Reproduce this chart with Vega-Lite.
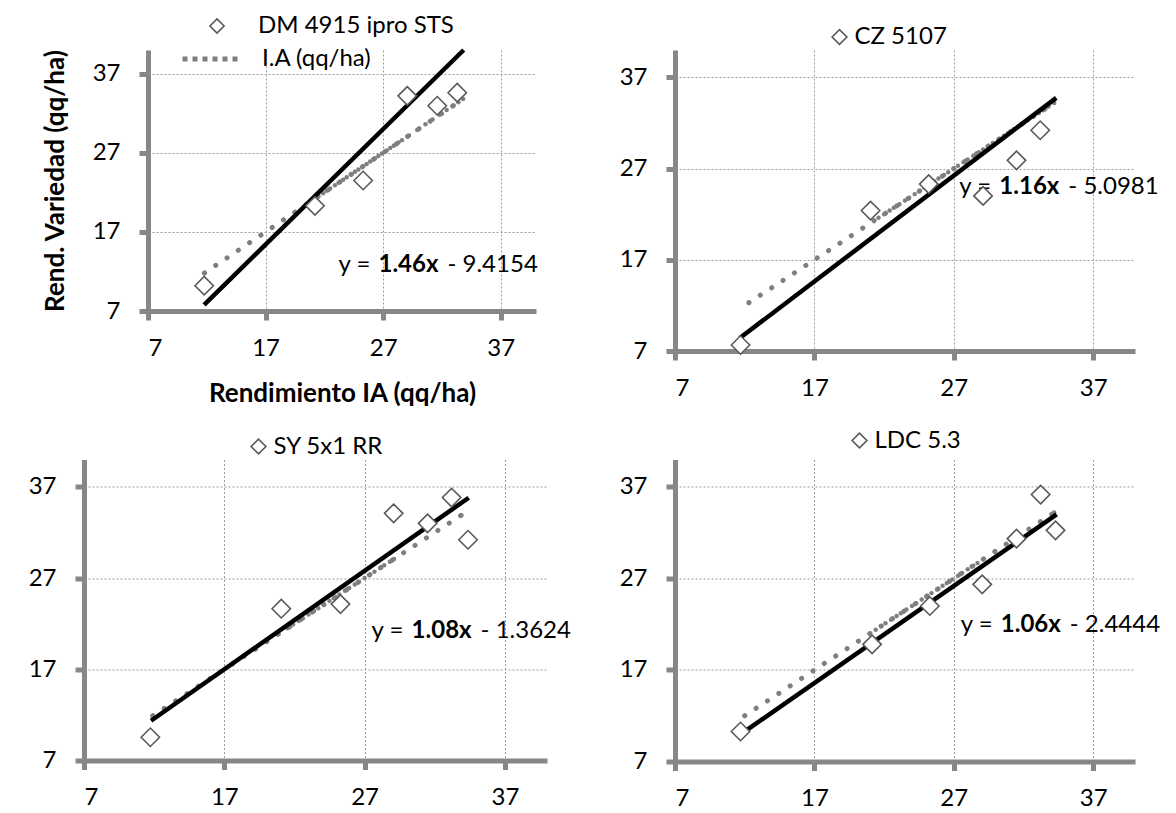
{
  "$schema": "https://vega.github.io/schema/vega-lite/v6.json",
  "background": "white",
  "padding": {"left": 28, "top": 14, "right": 10, "bottom": 10},
  "autosize": {"type": "pad"},
  "columns": 2,
  "bounds": "flush",
  "align": "all",
  "spacing": {"row": 107.5, "column": 128},
  "resolve": {
    "scale": {"shape": "independent", "stroke": "independent"},
    "legend": {"shape": "independent", "stroke": "independent"}
  },
  "config": {
    "font": "Lato",
    "view": {"stroke": null},
    "axis": {
      "labelFont": "Lato", "labelFontSize": 24, "labelColor": "#000000",
      "domainColor": "#878787", "domainWidth": 5,
      "tickColor": "#878787", "tickWidth": 5, "tickSize": 9,
      "gridColor": "#9c9c9c", "gridDash": [2, 2], "gridWidth": 1,
      "titleFont": "Lato", "titleFontSize": 26, "titleFontWeight": "bold", "titleColor": "#000000"
    },
    "axisX": {"labelPadding": 16, "labelAngle": 0},
    "axisY": {"labelPadding": 19},
    "legend": {"labelFont": "Lato", "labelFontSize": 24, "labelColor": "#000000", "padding": 0, "rowPadding": 0, "labelLimit": 500}
  },
  "concat": [
    {
      "width": 452, "height": 261,
      "encoding": {
        "x": {"field": "ia", "type": "quantitative", "scale": {"domain": [7, 40], "range": [64, 452], "nice": false, "zero": false},
              "axis": {"values": [7, 17, 27, 37], "title": "Rendimiento IA (qq/ha)", "titlePadding": 20}}
      },
      "layer": [
        {
          "data": {"values": [{"ia": 11.8, "serie": "I.A (qq/ha)"}, {"ia": 21.2, "serie": "I.A (qq/ha)"}, {"ia": 21.5, "serie": "I.A (qq/ha)"}, {"ia": 21.9, "serie": "I.A (qq/ha)"}, {"ia": 22.2, "serie": "I.A (qq/ha)"}, {"ia": 22.5, "serie": "I.A (qq/ha)"}, {"ia": 22.9, "serie": "I.A (qq/ha)"}, {"ia": 23.2, "serie": "I.A (qq/ha)"}, {"ia": 23.6, "serie": "I.A (qq/ha)"}, {"ia": 23.9, "serie": "I.A (qq/ha)"}, {"ia": 24.3, "serie": "I.A (qq/ha)"}, {"ia": 24.6, "serie": "I.A (qq/ha)"}, {"ia": 24.9, "serie": "I.A (qq/ha)"}, {"ia": 25.3, "serie": "I.A (qq/ha)"}, {"ia": 25.6, "serie": "I.A (qq/ha)"}, {"ia": 25.9, "serie": "I.A (qq/ha)"}, {"ia": 26.3, "serie": "I.A (qq/ha)"}, {"ia": 26.6, "serie": "I.A (qq/ha)"}, {"ia": 26.9, "serie": "I.A (qq/ha)"}, {"ia": 27.3, "serie": "I.A (qq/ha)"}, {"ia": 27.6, "serie": "I.A (qq/ha)"}, {"ia": 27.9, "serie": "I.A (qq/ha)"}, {"ia": 28.3, "serie": "I.A (qq/ha)"}, {"ia": 28.6, "serie": "I.A (qq/ha)"}, {"ia": 29.2, "serie": "I.A (qq/ha)"}, {"ia": 29.9, "serie": "I.A (qq/ha)"}, {"ia": 30.6, "serie": "I.A (qq/ha)"}, {"ia": 31.2, "serie": "I.A (qq/ha)"}, {"ia": 31.8, "serie": "I.A (qq/ha)"}, {"ia": 32.4, "serie": "I.A (qq/ha)"}, {"ia": 33.0, "serie": "I.A (qq/ha)"}, {"ia": 33.4, "serie": "I.A (qq/ha)"}, {"ia": 33.8, "serie": "I.A (qq/ha)"}]},
          "layer": [
            {
              "mark": {"type": "line", "strokeWidth": 5, "strokeDash": [0.1, 13.5], "strokeCap": "round"},
              "encoding": {
                "y": {"field": "ia", "type": "quantitative", "scale": {"domain": [7, 40], "nice": false, "zero": false},
                      "axis": {"values": [7, 17, 27, 37], "title": "Rend. Variedad (qq/ha)", "titlePadding": 24, "offset": -64}},
                "stroke": {"field": "serie", "type": "nominal", "scale": {"range": ["#7f7f7f"]},
                           "legend": {"title": null, "orient": "none", "legendX": 96, "legendY": -21, "labelOffset": 22,
                                      "symbolType": "stroke", "symbolDash": [5, 5], "symbolSize": 3025, "symbolStrokeWidth": 5}}
              }
            },
            {
              "mark": {"type": "circle", "size": 20, "color": "#7f7f7f", "opacity": 1},
              "encoding": {
                "y": {"field": "ia", "type": "quantitative", "axis": {"values": [7, 17, 27, 37], "title": "Rend. Variedad (qq/ha)", "titlePadding": 24, "offset": -64}}
              }
            }
          ]
        },
        {
          "data": {"values": [{"ia": 11.77, "rend": 7.77}, {"ia": 33.85, "rend": 40.0}]},
          "mark": {"type": "line", "color": "#000000", "strokeWidth": 4.5},
          "encoding": {
            "y": {"field": "rend", "type": "quantitative", "axis": {"values": [7, 17, 27, 37], "title": "Rend. Variedad (qq/ha)", "titlePadding": 24, "offset": -64}}
          }
        },
        {
          "data": {"values": [{"ia": 23.2, "rend": 12.8, "a": "y =", "b": "1.46x", "c": "- 9.4154"}]},
          "layer": [
            {"mark": {"type": "text", "align": "left", "baseline": "middle", "fontSize": 24, "font": "Lato", "color": "#000000"},
             "encoding": {"y": {"field": "rend", "type": "quantitative", "axis": {"values": [7, 17, 27, 37], "title": "Rend. Variedad (qq/ha)", "titlePadding": 24, "offset": -64}}, "text": {"field": "a"}}},
            {"mark": {"type": "text", "align": "left", "baseline": "middle", "fontSize": 24, "font": "Lato", "fontWeight": "bold", "color": "#000000", "dx": 40},
             "encoding": {"y": {"field": "rend", "type": "quantitative", "axis": {"values": [7, 17, 27, 37], "title": "Rend. Variedad (qq/ha)", "titlePadding": 24, "offset": -64}}, "text": {"field": "b"}}},
            {"mark": {"type": "text", "align": "left", "baseline": "middle", "fontSize": 24, "font": "Lato", "color": "#000000", "dx": 109},
             "encoding": {"y": {"field": "rend", "type": "quantitative", "axis": {"values": [7, 17, 27, 37], "title": "Rend. Variedad (qq/ha)", "titlePadding": 24, "offset": -64}}, "text": {"field": "c"}}}
          ]
        },
        {
          "data": {"values": [{"ia": 11.78, "rend": 10.2, "var": "DM 4915 ipro STS"}, {"ia": 21.2, "rend": 20.3, "var": "DM 4915 ipro STS"}, {"ia": 25.3, "rend": 23.5, "var": "DM 4915 ipro STS"}, {"ia": 29.05, "rend": 34.2, "var": "DM 4915 ipro STS"}, {"ia": 31.6, "rend": 32.95, "var": "DM 4915 ipro STS"}, {"ia": 33.3, "rend": 34.6, "var": "DM 4915 ipro STS"}]},
          "mark": {"type": "point", "filled": false, "fill": "white", "size": 340, "stroke": "#595959", "strokeWidth": 1.6, "opacity": 1},
          "encoding": {
            "y": {"field": "rend", "type": "quantitative", "axis": {"values": [7, 17, 27, 37], "title": "Rend. Variedad (qq/ha)", "titlePadding": 24, "offset": -64}},
            "shape": {"field": "var", "type": "nominal", "scale": {"range": ["diamond"]},
                      "legend": {"title": null, "orient": "none", "legendX": 121, "legendY": -36, "labelOffset": 29, "symbolSize": 200, "symbolStrokeWidth": 1.6}}
          }
        }
      ]
    },
    {
      "width": 460, "height": 301,
      "encoding": {
        "x": {"field": "ia", "type": "quantitative", "scale": {"domain": [7, 40], "nice": false, "zero": false}, "axis": {"values": [7, 17, 27, 37], "title": null}}
      },
      "layer": [
        {
          "data": {"values": [{"ia": 12.3}, {"ia": 21.6}, {"ia": 22.0}, {"ia": 22.4}, {"ia": 22.7}, {"ia": 23.1}, {"ia": 23.5}, {"ia": 23.8}, {"ia": 24.2}, {"ia": 24.5}, {"ia": 24.9}, {"ia": 25.2}, {"ia": 25.6}, {"ia": 25.9}, {"ia": 26.3}, {"ia": 26.6}, {"ia": 27.0}, {"ia": 27.3}, {"ia": 27.7}, {"ia": 28.0}, {"ia": 28.4}, {"ia": 28.8}, {"ia": 29.1}, {"ia": 29.5}, {"ia": 29.8}, {"ia": 30.2}, {"ia": 30.6}, {"ia": 30.9}, {"ia": 31.3}, {"ia": 31.6}, {"ia": 32.0}, {"ia": 32.3}, {"ia": 32.7}, {"ia": 33.1}, {"ia": 33.4}, {"ia": 33.8}, {"ia": 34.2}]},
          "layer": [
            {"mark": {"type": "line", "color": "#7f7f7f", "strokeWidth": 5, "strokeDash": [0.1, 13.5], "strokeCap": "round"},
             "encoding": {"y": {"field": "ia", "type": "quantitative", "scale": {"domain": [7, 40], "nice": false, "zero": false}, "axis": {"values": [7, 17, 27, 37], "title": null}}}},
            {"mark": {"type": "circle", "size": 20, "color": "#7f7f7f", "opacity": 1},
             "encoding": {"y": {"field": "ia", "type": "quantitative", "axis": {"values": [7, 17, 27, 37], "title": null}}}}
          ]
        },
        {
          "data": {"values": [{"ia": 11.65, "rend": 8.42}, {"ia": 34.35, "rend": 34.75}]},
          "mark": {"type": "line", "color": "#000000", "strokeWidth": 4.5},
          "encoding": {"y": {"field": "rend", "type": "quantitative", "axis": {"values": [7, 17, 27, 37], "title": null}}}
        },
        {
          "data": {"values": [{"ia": 27.4, "rend": 25.0, "a": "y =", "b": "1.16x", "c": "- 5.0981"}]},
          "layer": [
            {"mark": {"type": "text", "align": "left", "baseline": "middle", "fontSize": 24, "font": "Lato", "color": "#000000"},
             "encoding": {"y": {"field": "rend", "type": "quantitative", "axis": {"values": [7, 17, 27, 37], "title": null}}, "text": {"field": "a"}}},
            {"mark": {"type": "text", "align": "left", "baseline": "middle", "fontSize": 24, "font": "Lato", "fontWeight": "bold", "color": "#000000", "dx": 40},
             "encoding": {"y": {"field": "rend", "type": "quantitative", "axis": {"values": [7, 17, 27, 37], "title": null}}, "text": {"field": "b"}}},
            {"mark": {"type": "text", "align": "left", "baseline": "middle", "fontSize": 24, "font": "Lato", "color": "#000000", "dx": 109},
             "encoding": {"y": {"field": "rend", "type": "quantitative", "axis": {"values": [7, 17, 27, 37], "title": null}}, "text": {"field": "c"}}}
          ]
        },
        {
          "data": {"values": [{"ia": 11.7, "rend": 7.66, "var": "CZ 5107"}, {"ia": 21.03, "rend": 22.4, "var": "CZ 5107"}, {"ia": 25.2, "rend": 25.3, "var": "CZ 5107"}, {"ia": 29.1, "rend": 24.0, "var": "CZ 5107"}, {"ia": 31.5, "rend": 27.9, "var": "CZ 5107"}, {"ia": 33.2, "rend": 31.2, "var": "CZ 5107"}]},
          "mark": {"type": "point", "filled": false, "fill": "white", "size": 340, "stroke": "#595959", "strokeWidth": 1.6, "opacity": 1},
          "encoding": {
            "y": {"field": "rend", "type": "quantitative", "axis": {"values": [7, 17, 27, 37], "title": null}},
            "shape": {"field": "var", "type": "nominal", "scale": {"range": ["diamond"]},
                      "legend": {"title": null, "orient": "none", "legendX": 152.5, "legendY": -25, "labelOffset": 3, "symbolSize": 220, "symbolStrokeWidth": 1.6}}
          }
        }
      ]
    },
    {
      "width": 463, "height": 301,
      "encoding": {
        "x": {"field": "ia", "type": "quantitative", "scale": {"domain": [7, 40], "nice": false, "zero": false}, "axis": {"values": [7, 17, 27, 37], "title": null}}
      },
      "layer": [
        {
          "data": {"values": [{"ia": 11.9}, {"ia": 21.5}, {"ia": 21.9}, {"ia": 22.3}, {"ia": 22.6}, {"ia": 23.0}, {"ia": 23.4}, {"ia": 23.7}, {"ia": 24.1}, {"ia": 24.5}, {"ia": 24.8}, {"ia": 25.2}, {"ia": 25.6}, {"ia": 25.9}, {"ia": 26.3}, {"ia": 26.6}, {"ia": 27.0}, {"ia": 27.4}, {"ia": 27.7}, {"ia": 28.1}, {"ia": 28.4}, {"ia": 28.8}, {"ia": 29.1}, {"ia": 33.9}]},
          "layer": [
            {"mark": {"type": "line", "color": "#7f7f7f", "strokeWidth": 5, "strokeDash": [0.1, 13.5], "strokeCap": "round"},
             "encoding": {"y": {"field": "ia", "type": "quantitative", "scale": {"domain": [7, 40], "nice": false, "zero": false}, "axis": {"values": [7, 17, 27, 37], "title": null}}}},
            {"mark": {"type": "circle", "size": 20, "color": "#7f7f7f", "opacity": 1},
             "encoding": {"y": {"field": "ia", "type": "quantitative", "axis": {"values": [7, 17, 27, 37], "title": null}}}}
          ]
        },
        {
          "data": {"values": [{"ia": 11.78, "rend": 11.36}, {"ia": 34.42, "rend": 35.81}]},
          "mark": {"type": "line", "color": "#000000", "strokeWidth": 4.5},
          "encoding": {"y": {"field": "rend", "type": "quantitative", "axis": {"values": [7, 17, 27, 37], "title": null}}}
        },
        {
          "data": {"values": [{"ia": 27.5, "rend": 21.2, "a": "y =", "b": "1.08x", "c": "- 1.3624"}]},
          "layer": [
            {"mark": {"type": "text", "align": "left", "baseline": "middle", "fontSize": 24, "font": "Lato", "color": "#000000"},
             "encoding": {"y": {"field": "rend", "type": "quantitative", "axis": {"values": [7, 17, 27, 37], "title": null}}, "text": {"field": "a"}}},
            {"mark": {"type": "text", "align": "left", "baseline": "middle", "fontSize": 24, "font": "Lato", "fontWeight": "bold", "color": "#000000", "dx": 40},
             "encoding": {"y": {"field": "rend", "type": "quantitative", "axis": {"values": [7, 17, 27, 37], "title": null}}, "text": {"field": "b"}}},
            {"mark": {"type": "text", "align": "left", "baseline": "middle", "fontSize": 24, "font": "Lato", "color": "#000000", "dx": 109},
             "encoding": {"y": {"field": "rend", "type": "quantitative", "axis": {"values": [7, 17, 27, 37], "title": null}}, "text": {"field": "c"}}}
          ]
        },
        {
          "data": {"values": [{"ia": 11.73, "rend": 9.55, "var": "SY 5x1 RR"}, {"ia": 21.06, "rend": 23.64, "var": "SY 5x1 RR"}, {"ia": 25.28, "rend": 24.15, "var": "SY 5x1 RR"}, {"ia": 29.07, "rend": 34.1, "var": "SY 5x1 RR"}, {"ia": 31.49, "rend": 33.0, "var": "SY 5x1 RR"}, {"ia": 33.2, "rend": 35.83, "var": "SY 5x1 RR"}, {"ia": 34.37, "rend": 31.2, "var": "SY 5x1 RR"}]},
          "mark": {"type": "point", "filled": false, "fill": "white", "size": 340, "stroke": "#595959", "strokeWidth": 1.6, "opacity": 1},
          "encoding": {
            "y": {"field": "rend", "type": "quantitative", "axis": {"values": [7, 17, 27, 37], "title": null}},
            "shape": {"field": "var", "type": "nominal", "scale": {"range": ["diamond"]},
                      "legend": {"title": null, "orient": "none", "legendX": 162.5, "legendY": -25, "labelOffset": 3, "symbolSize": 220, "symbolStrokeWidth": 1.6}}
          }
        }
      ]
    },
    {
      "width": 460, "height": 302,
      "encoding": {
        "x": {"field": "ia", "type": "quantitative", "scale": {"domain": [7, 40], "nice": false, "zero": false}, "axis": {"values": [7, 17, 27, 37], "title": null}}
      },
      "layer": [
        {
          "data": {"values": [{"ia": 12.0}, {"ia": 21.0}, {"ia": 21.4}, {"ia": 21.8}, {"ia": 22.1}, {"ia": 22.5}, {"ia": 22.9}, {"ia": 23.2}, {"ia": 23.6}, {"ia": 24.0}, {"ia": 24.3}, {"ia": 24.7}, {"ia": 25.1}, {"ia": 25.4}, {"ia": 25.8}, {"ia": 26.2}, {"ia": 26.5}, {"ia": 26.9}, {"ia": 27.3}, {"ia": 27.6}, {"ia": 28.0}, {"ia": 28.4}, {"ia": 28.7}, {"ia": 29.1}, {"ia": 34.2}]},
          "layer": [
            {"mark": {"type": "line", "color": "#7f7f7f", "strokeWidth": 5, "strokeDash": [0.1, 13.5], "strokeCap": "round"},
             "encoding": {"y": {"field": "ia", "type": "quantitative", "scale": {"domain": [7, 40], "nice": false, "zero": false}, "axis": {"values": [7, 17, 27, 37], "title": null}}}},
            {"mark": {"type": "circle", "size": 20, "color": "#7f7f7f", "opacity": 1},
             "encoding": {"y": {"field": "ia", "type": "quantitative", "axis": {"values": [7, 17, 27, 37], "title": null}}}}
          ]
        },
        {
          "data": {"values": [{"ia": 11.75, "rend": 10.01}, {"ia": 34.38, "rend": 34.0}]},
          "mark": {"type": "line", "color": "#000000", "strokeWidth": 4.5},
          "encoding": {"y": {"field": "rend", "type": "quantitative", "axis": {"values": [7, 17, 27, 37], "title": null}}}
        },
        {
          "data": {"values": [{"ia": 27.5, "rend": 21.9, "a": "y =", "b": "1.06x", "c": "- 2.4444"}]},
          "layer": [
            {"mark": {"type": "text", "align": "left", "baseline": "middle", "fontSize": 24, "font": "Lato", "color": "#000000"},
             "encoding": {"y": {"field": "rend", "type": "quantitative", "axis": {"values": [7, 17, 27, 37], "title": null}}, "text": {"field": "a"}}},
            {"mark": {"type": "text", "align": "left", "baseline": "middle", "fontSize": 24, "font": "Lato", "fontWeight": "bold", "color": "#000000", "dx": 40},
             "encoding": {"y": {"field": "rend", "type": "quantitative", "axis": {"values": [7, 17, 27, 37], "title": null}}, "text": {"field": "b"}}},
            {"mark": {"type": "text", "align": "left", "baseline": "middle", "fontSize": 24, "font": "Lato", "color": "#000000", "dx": 109},
             "encoding": {"y": {"field": "rend", "type": "quantitative", "axis": {"values": [7, 17, 27, 37], "title": null}}, "text": {"field": "c"}}}
          ]
        },
        {
          "data": {"values": [{"ia": 11.7, "rend": 10.28, "var": "LDC 5.3"}, {"ia": 21.14, "rend": 19.8, "var": "LDC 5.3"}, {"ia": 25.28, "rend": 23.99, "var": "LDC 5.3"}, {"ia": 29.04, "rend": 26.36, "var": "LDC 5.3"}, {"ia": 31.5, "rend": 31.35, "var": "LDC 5.3"}, {"ia": 33.23, "rend": 36.17, "var": "LDC 5.3"}, {"ia": 34.3, "rend": 32.26, "var": "LDC 5.3"}]},
          "mark": {"type": "point", "filled": false, "fill": "white", "size": 340, "stroke": "#595959", "strokeWidth": 1.6, "opacity": 1},
          "encoding": {
            "y": {"field": "rend", "type": "quantitative", "axis": {"values": [7, 17, 27, 37], "title": null}},
            "shape": {"field": "var", "type": "nominal", "scale": {"range": ["diamond"]},
                      "legend": {"title": null, "orient": "none", "legendX": 172.5, "legendY": -31, "labelOffset": 3, "symbolSize": 220, "symbolStrokeWidth": 1.6}}
          }
        }
      ]
    }
  ]
}
